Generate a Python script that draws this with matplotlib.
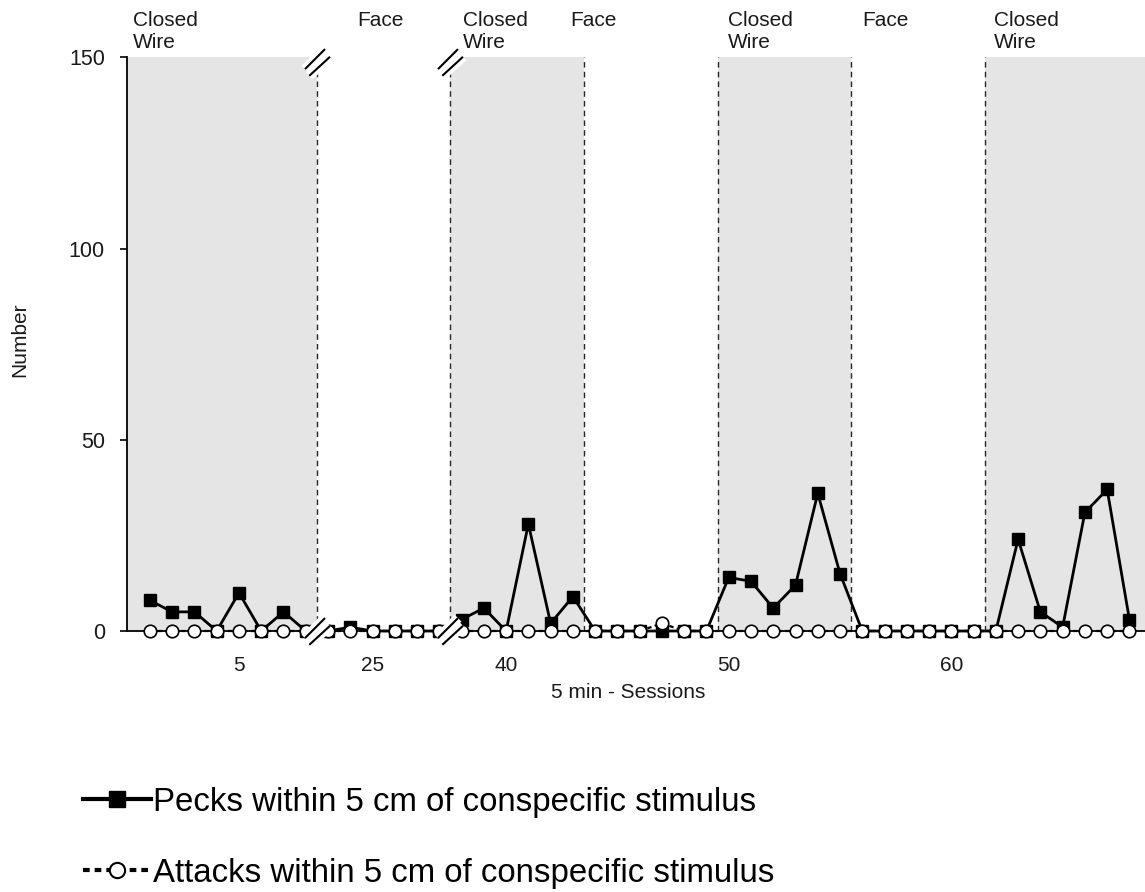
import matplotlib
matplotlib.use('Agg')
import matplotlib.pyplot as plt
import numpy as np
from matplotlib.path import Path
from matplotlib.lines import Line2D

plt.rcParams['font.family'] = ['Liberation Sans', 'DejaVu Sans']

# sessions shown on the broken axis (9-22 and 29-37 are cut out)
sessions = list(range(1, 9)) + list(range(23, 29)) + list(range(38, 69))
pecks = [8, 5, 5, 0, 10, 0, 5, 0,
         0, 1, 0, 0, 0, 0,
         3, 6, 0, 28, 2, 9, 0, 0, 0, 0, 0, 0, 14, 13, 6, 12, 36, 15,
         0, 0, 0, 0, 0, 0, 0, 24, 5, 1, 31, 37, 3]
attacks = [0] * 8 + [0] * 6 + [0] * 9 + [2] + [0] * 21

phase_names = ['Closed\nWire', 'Face', 'Closed\nWire', 'Face', 'Closed\nWire', 'Face', 'Closed\nWire']
phase_start = [1, 23, 38, 44, 50, 56, 62]
label_x = [-0.76, 9.3, 14.06, 18.87, 25.97, 31.99, 37.9]
tick_sessions = [5, 25, 40, 50, 60]
break_before = [23, 38]

W, H = 1145, 892
x = np.arange(len(sessions))
pos = {s: i for i, s in enumerate(sessions)}

fig = plt.figure(figsize=(W / 100, H / 100), dpi=100)
ax = fig.add_axes([127 / W, 1 - 631 / H, 1 - 127 / W, (631 - 57.3) / H])
xmin, xmax = -1.03, 44.7
ax.set_xlim(xmin, xmax)
ax.set_ylim(0, 150)

# phase shading and dashed separators
bounds = [pos[s] - 0.5 for s in phase_start[1:]]
edges = [xmin] + bounds + [xmax]
for i, name in enumerate(phase_names):
    if name.startswith('Closed'):
        ax.axvspan(edges[i], edges[i + 1], color='#e4e5e4', lw=0, zorder=0)
for b in bounds:
    ax.axvline(b, color='#262626', lw=1.0, ls=(0, (4, 3)), zorder=1)

ax.plot(x, pecks, color='black', lw=2, marker='s', ms=9, mfc='black', mec='black',
        zorder=3, clip_on=False)
ax.plot(x, attacks, color='black', lw=1.6, ls=(0, (2, 1.5)), marker='o', ms=9,
        mfc='white', mec='black', mew=1.2, zorder=4, clip_on=False)

# "//" break marks, defined in pixels around the centre (y up)
seg = np.array([[-12.5, -6.6], [7.5, 13.4], [-8.2, -13.3], [12.5, 5.7]])
scale = np.abs(seg).max()
mark = Path(seg / scale, [Path.MOVETO, Path.LINETO, Path.MOVETO, Path.LINETO])
ms_pt = 2 * scale * 72 / 100
trans = ax.get_xaxis_transform()
for s in break_before:
    bx = pos[s] - 0.5
    for by in (0.992, 0.0):
        ax.plot([bx], [by], transform=trans, marker=mark, ms=ms_pt, mec='white', mew=7,
                ls='none', zorder=5, clip_on=False)
        ax.plot([bx], [by], transform=trans, marker=mark, ms=ms_pt, mec='black', mew=1.5,
                ls='none', zorder=6, clip_on=False)

for lx, name in zip(label_x, phase_names):
    ax.text(lx, 1 + (57.3 - 10.5) / 573.7, name, transform=trans, ha='left', va='top',
            fontsize=15, linespacing=1.2, color='#1a1a1a')

for side in ('top', 'right'):
    ax.spines[side].set_visible(False)
for side in ('left', 'bottom'):
    ax.spines[side].set_linewidth(1.3)

ax.set_yticks([0, 50, 100, 150])
ax.tick_params(axis='y', direction='out', length=5, width=1.2, pad=11, labelsize=15.5,
               labelcolor='#1a1a1a')
ax.set_xticks([pos[s] for s in tick_sessions])
ax.set_xticklabels([str(s) for s in tick_sessions])
ax.tick_params(axis='x', length=0, pad=18, labelsize=15, labelcolor='#1a1a1a')

fig.text(20 / W, 1 - 340 / H, 'Number', rotation=90, ha='center', va='center',
         fontsize=15, color='#1a1a1a')
fig.text(628 / W, 1 - 692 / H, '5 min - Sessions', ha='center', va='center',
         fontsize=15, color='#1a1a1a')

h1 = Line2D([], [], color='black', lw=3, marker='s', ms=12, mfc='black', mec='black')
h2 = Line2D([], [], color='black', lw=3, ls=(0, (1.6, 1.2)), marker='o', ms=11,
            mfc='white', mec='black', mew=1.5)
fig.legend(handles=[h1, h2],
           labels=['Pecks within 5 cm of conspecific stimulus',
                   'Attacks within 5 cm of conspecific stimulus'],
           loc='upper left', bbox_to_anchor=(83 / W, 1 - 787 / H), frameon=False,
           fontsize=23.8, handlelength=2.07, handletextpad=0.05, borderpad=0,
           borderaxespad=0, labelspacing=1.2)

fig.savefig('out.png', dpi=100)
